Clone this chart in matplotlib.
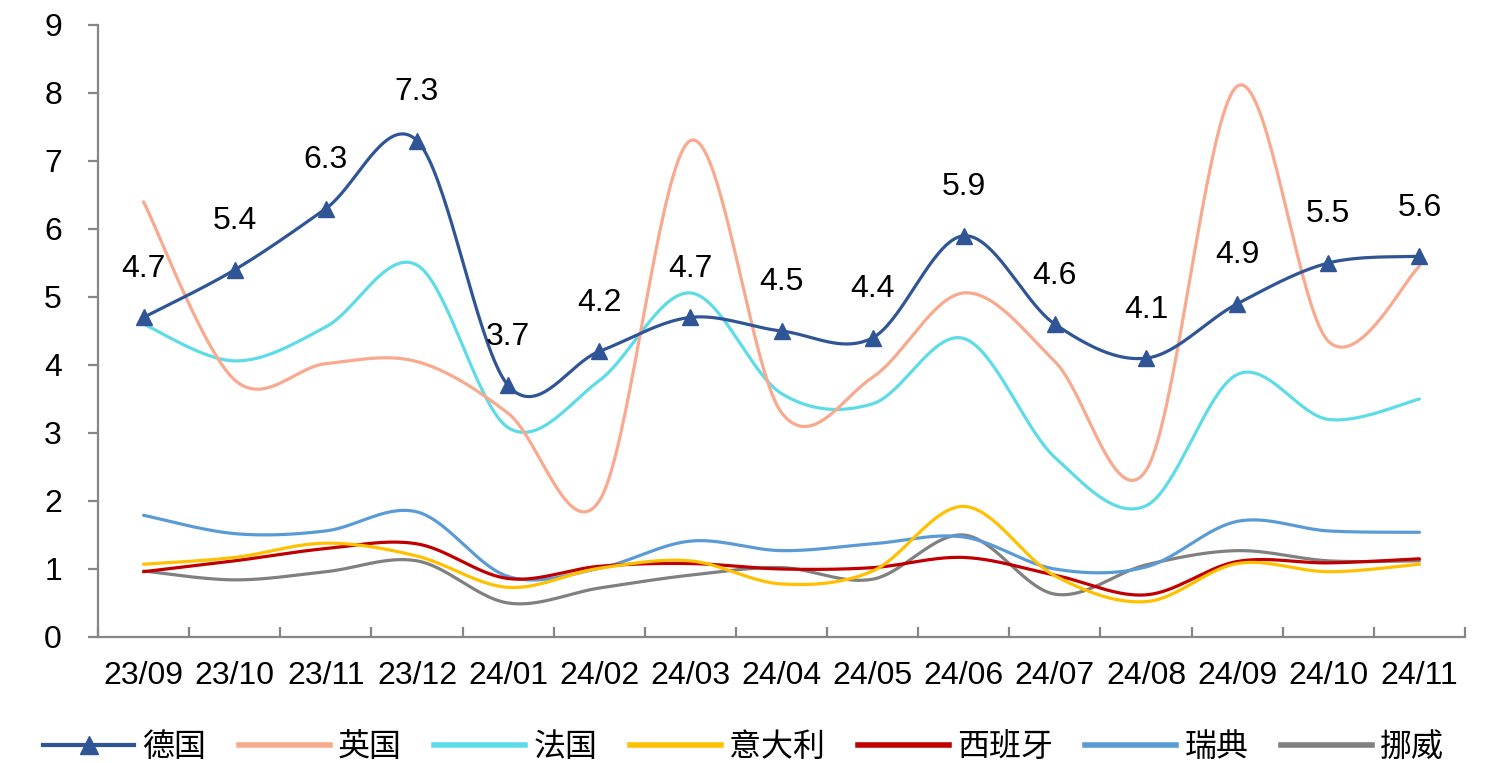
import numpy as np
import matplotlib
matplotlib.use("Agg")
import matplotlib.pyplot as plt
from matplotlib.lines import Line2D

months = ["23/09", "23/10", "23/11", "23/12", "24/01", "24/02", "24/03", "24/04",
          "24/05", "24/06", "24/07", "24/08", "24/09", "24/10", "24/11"]

germany = [4.7, 5.4, 6.3, 7.3, 3.7, 4.2, 4.7, 4.5, 4.4, 5.9, 4.6, 4.1, 4.9, 5.5, 5.6]
uk      = [6.4, 3.78, 4.02, 4.05, 3.29, 2.0, 7.3, 3.3, 3.82, 5.06, 4.05, 2.45, 8.1, 4.35, 5.45]
france  = [4.6, 4.06, 4.56, 5.47, 3.08, 3.77, 5.06, 3.58, 3.43, 4.39, 2.64, 1.93, 3.86, 3.2, 3.5]
italy   = [1.07, 1.17, 1.38, 1.19, 0.73, 1.01, 1.12, 0.78, 0.97, 1.92, 0.9, 0.52, 1.08, 0.96, 1.07]
spain   = [0.96, 1.12, 1.30, 1.37, 0.86, 1.04, 1.08, 1.0, 1.02, 1.17, 0.91, 0.62, 1.11, 1.09, 1.15]
sweden  = [1.79, 1.52, 1.56, 1.84, 0.89, 1.01, 1.41, 1.27, 1.37, 1.47, 1.0, 1.03, 1.70, 1.56, 1.54]
norway  = [0.97, 0.84, 0.96, 1.12, 0.50, 0.72, 0.91, 1.02, 0.85, 1.5, 0.63, 1.06, 1.27, 1.12, 1.12]

series_names = ["德国", "英国", "法国", "意大利", "西班牙", "瑞典", "挪威"]
series_vals = [germany, uk, france, italy, spain, sweden, norway]
colors = ["#2F5597", "#F8A98E", "#5DDCE8", "#FFC000", "#C00000", "#5B9BD5", "#808080"]

LATIN = "Liberation Sans"
CJK = ["Noto Sans CJK SC", "DejaVu Sans"]


def smooth_curve(y, steps=40):
    """Cubic Bezier smoothing through every point (spreadsheet style)."""
    y = np.asarray(y, dtype=float)
    x = np.arange(len(y), dtype=float)
    pts = np.column_stack([x, y])
    n = len(pts)
    out = []
    t = np.linspace(0, 1, steps)[:, None]
    for i in range(n - 1):
        p0 = pts[max(i - 1, 0)]
        p1 = pts[i]
        p2 = pts[i + 1]
        p3 = pts[min(i + 2, n - 1)]
        c1 = p1 + (p2 - p0) / 6.0
        c2 = p2 - (p3 - p1) / 6.0
        seg = ((1 - t) ** 3) * p1 + 3 * ((1 - t) ** 2) * t * c1 + 3 * (1 - t) * t ** 2 * c2 + t ** 3 * p2
        out.append(seg if i == 0 else seg[1:])
    seg = np.vstack(out)
    return seg[:, 0], seg[:, 1]


fig = plt.figure(figsize=(14.87, 7.63), dpi=100)
ax = fig.add_axes([98 / 1487, 1 - 637 / 763, (1465 - 98) / 1487, (637 - 25) / 763])

x = np.arange(len(months))
# draw back-to-front so Germany sits on top
order = [6, 5, 4, 3, 2, 1, 0]
for k in order:
    sx, sy = smooth_curve(series_vals[k])
    ax.plot(sx, sy, color=colors[k], lw=2.3, solid_capstyle="round", zorder=2 + (7 - k))

ax.plot(x, germany, linestyle="none", marker="^", markersize=12,
        color=colors[0], zorder=20)

for xi, v in zip(x, germany):
    ax.annotate(f"{v:.1f}", (xi, v), xytext=(0, 35), textcoords="offset points",
                ha="center", va="center", fontsize=23, family=LATIN, color="black",
                zorder=25)

ax.set_xlim(-0.5, len(months) - 0.5)
ax.set_ylim(0, 9)
ax.set_yticks(range(0, 10))
ax.set_yticklabels([str(i) for i in range(10)], fontsize=23, family=LATIN)
ax.set_xticks(x)
ax.set_xticklabels(months, fontsize=23, family=LATIN)
ax.set_xticks(np.arange(-0.5, len(months), 1.0), minor=True)

for s in ["top", "right"]:
    ax.spines[s].set_visible(False)
for s in ["left", "bottom"]:
    ax.spines[s].set_color("#868686")
    ax.spines[s].set_linewidth(1.6)

ax.tick_params(axis="x", which="major", length=0, pad=17)
ax.tick_params(axis="x", which="minor", direction="in", length=7, width=1.6, color="#868686")
ax.tick_params(axis="y", direction="out", length=7, width=1.6, color="#868686", pad=19)

handles = []
for k, name in enumerate(series_names):
    if k == 0:
        h = Line2D([], [], color=colors[k], lw=3, marker="^", markersize=13)
    else:
        h = Line2D([], [], color=colors[k], lw=4)
    handles.append(h)

leg = fig.legend(handles, series_names, loc="center", bbox_to_anchor=(0.5, 16 / 763),
                 ncol=7, frameon=False, handlelength=2.85, handletextpad=0.25,
                 columnspacing=1.02, prop={"family": CJK, "size": 23})

fig.savefig("out.png", dpi=100, facecolor="white")
